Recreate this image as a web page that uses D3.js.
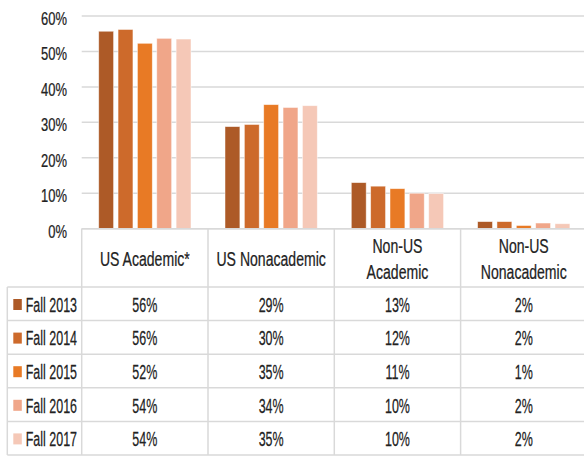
<!DOCTYPE html>
<html>
<head>
<meta charset="utf-8">
<script src="https://cdn.jsdelivr.net/npm/d3@7"></script>
<style>
  body { margin: 0; background: #fff; }
  svg { display: block; }
  text { font-family: "Liberation Sans", Arial, sans-serif; fill: #222; stroke: #222; stroke-width: 0.25px; }
</style>
</head>
<body>
<svg width="584" height="456"></svg>
<script>
// chart data
var categories = ["US Academic*", "US Nonacademic", "Non-US Academic", "Non-US Nonacademic"];
var headerLines = [["US Academic*"], ["US Nonacademic"], ["Non-US", "Academic"], ["Non-US", "Nonacademic"]];
var years = ["Fall 2013", "Fall 2014", "Fall 2015", "Fall 2016", "Fall 2017"];
var colors = ["#ad5a27", "#cd6a2b", "#e87a25", "#f0a689", "#f5c8b7"];
// bar heights (unrounded)
var fall2013 = [55.7, 28.8, 13.0, 2.0];
var fall2014 = [56.2, 29.4, 12.0, 2.0];
var fall2015 = [52.3, 35.0, 11.3, 0.9];
var fall2016 = [53.7, 34.2, 10.0, 1.6];
var fall2017 = [53.5, 34.7, 9.9, 1.4];
// table labels
var label2013 = ["56%", "29%", "13%", "2%"];
var label2014 = ["56%", "30%", "12%", "2%"];
var label2015 = ["52%", "35%", "11%", "1%"];
var label2016 = ["54%", "34%", "10%", "2%"];
var label2017 = ["54%", "35%", "10%", "2%"];
var yTicks = [0, 10, 20, 30, 40, 50, 60];

var series = [fall2013, fall2014, fall2015, fall2016, fall2017];
var labels = [label2013, label2014, label2015, label2016, label2017];

var svg = d3.select('svg');
var left = 81.7, colW = 126.3;

var x = d3.scaleBand()
    .domain(categories)
    .range([left, left + colW * categories.length]);

var xInner = d3.scaleBand()
    .domain(years)
    .range([17, colW - 17])
    .paddingInner(0.23);

var y = d3.scaleLinear()
    .domain([0, 60])
    .range([228.7, 16]);

// gridlines
svg.append('g')
    .selectAll('line')
    .data(yTicks)
    .enter()
    .append('line')
    .attr('x1', left)
    .attr('x2', 584)
    .attr('y1', function(d) { return y(d); })
    .attr('y2', function(d) { return y(d); })
    .attr('stroke', '#d9d9d9')
    .attr('stroke-width', 1.5);

// y axis labels
var yAxis = d3.axisLeft(y)
    .tickValues(yTicks)
    .tickSize(0)
    .tickPadding(0)
    .tickFormat(function(d) { return d + '%'; });

var yg = svg.append('g')
    .attr('transform', 'translate(67,0)')
    .call(yAxis);
yg.select('.domain').remove();
yg.attr('font-family', null).attr('font-size', null);
yg.selectAll('text')
    .attr('x', 0)
    .attr('dy', 8.5)
    .attr('font-size', 18)
    .attr('fill', null)
    .attr('transform', 'scale(0.72,1)');

// bars
var groups = svg.append('g')
    .selectAll('g')
    .data(series)
    .enter()
    .append('g')
    .attr('fill', function(d, i) { return colors[i]; });

groups.selectAll('rect')
    .data(function(d, i) {
        return d.map(function(v, j) { return { cat: categories[j], year: years[i], v: v }; });
    })
    .enter()
    .append('rect')
    .attr('x', function(d) { return x(d.cat) + xInner(d.year); })
    .attr('y', function(d) { return y(d.v); })
    .attr('width', xInner.bandwidth())
    .attr('height', function(d) { return y(0) - y(d.v); })
    .attr('stroke', '#fff')
    .attr('stroke-opacity', 0.6)
    .attr('stroke-width', 0.8);

// data table
var rowTop = 287, rowH = 33.6, tableLeft = 7.3;
var table = svg.append('g');
var lineColor = '#d9d9d9';

// the original uses a condensed face, so squeeze the text horizontally
function place(px, py, k) {
    return 'translate(' + px + ',' + py + ') scale(' + k + ',1)';
}

// horizontal lines
table.append('line')
    .attr('x1', left).attr('x2', 584)
    .attr('y1', y(0)).attr('y2', y(0))
    .attr('stroke', lineColor).attr('stroke-width', 1.5);
table.selectAll('line.h')
    .data(d3.range(years.length + 1))
    .enter()
    .append('line')
    .attr('class', 'h')
    .attr('x1', tableLeft).attr('x2', 584)
    .attr('y1', function(d) { return rowTop + d * rowH; })
    .attr('y2', function(d) { return rowTop + d * rowH; })
    .attr('stroke', lineColor).attr('stroke-width', 1.5);

// vertical lines
table.append('line')
    .attr('x1', tableLeft).attr('x2', tableLeft)
    .attr('y1', rowTop).attr('y2', rowTop + rowH * years.length)
    .attr('stroke', lineColor).attr('stroke-width', 1.5);
table.selectAll('line.v')
    .data(categories)
    .enter()
    .append('line')
    .attr('class', 'v')
    .attr('x1', function(d) { return x(d); })
    .attr('x2', function(d) { return x(d); })
    .attr('y1', y(0))
    .attr('y2', rowTop + rowH * years.length)
    .attr('stroke', lineColor).attr('stroke-width', 1.5);

// header text
headerLines.forEach(function(lines, i) {
    var cx = x(categories[i]) + x.bandwidth() / 2;
    var y0 = lines.length === 1 ? 266 : 252.5;
    lines.forEach(function(s, k) {
        table.append('text')
            .attr('class', 'head')
            .attr('text-anchor', 'middle')
            .attr('font-size', 21)
            .attr('transform', place(cx, y0 + k * 26.6, 0.67))
            .text(s);
    });
});

// legend column
var legendRows = table.selectAll('g.row')
    .data(years)
    .enter()
    .append('g')
    .attr('class', 'row')
    .attr('transform', function(d, i) { return 'translate(0,' + (rowTop + i * rowH) + ')'; });

legendRows.append('rect')
    .attr('x', 13.3)
    .attr('y', 12)
    .attr('width', 8.5)
    .attr('height', 11)
    .attr('fill', function(d, i) { return colors[i]; });

legendRows.append('text')
    .attr('font-size', 21)
    .attr('transform', place(25.7, 24.8, 0.595))
    .text(function(d) { return d; });

legendRows.selectAll('text.val')
    .data(function(d, i) { return labels[i]; })
    .enter()
    .append('text')
    .attr('class', 'val')
    .attr('text-anchor', 'middle')
    .attr('font-size', 21)
    .attr('transform', function(d, j) { return place(x(categories[j]) + x.bandwidth() / 2, 24.8, 0.595); })
    .text(function(d) { return d; });
</script>
</body>
</html>
